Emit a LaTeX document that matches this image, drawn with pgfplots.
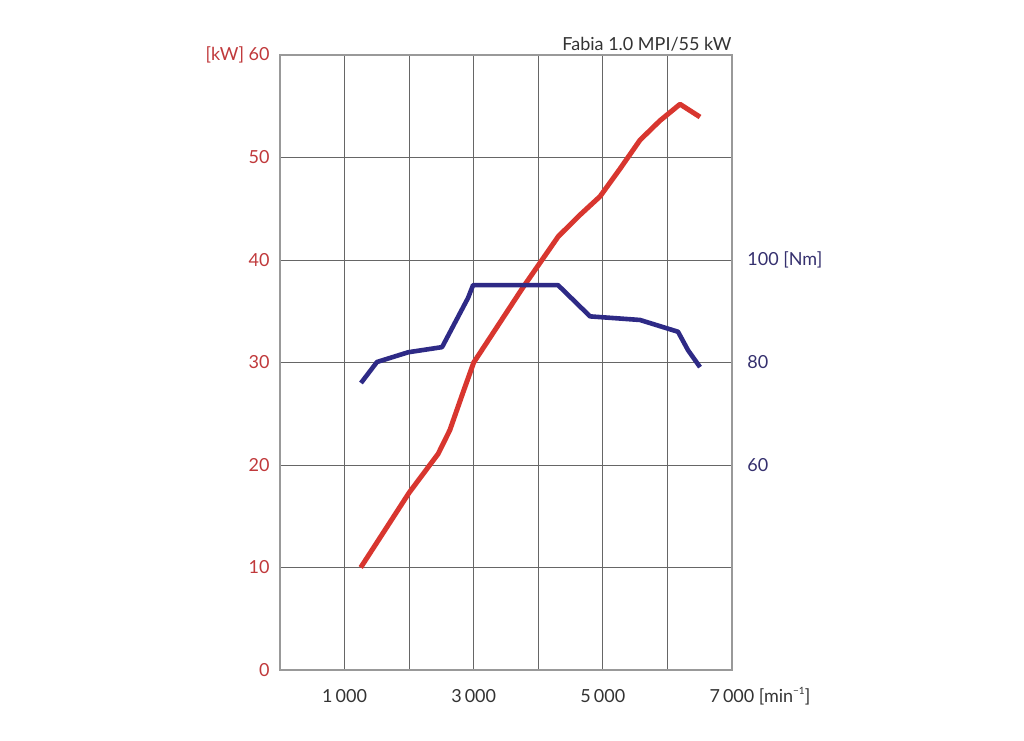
\documentclass[border=0pt]{standalone}
\usepackage{pgfplots}
\pgfplotsset{compat=1.18}
\usepackage{fontspec}
\setmainfont{Lato}
\definecolor{kwred}{HTML}{D8362F}
\definecolor{nmblue}{HTML}{2E2A86}
\definecolor{kwtext}{HTML}{C0393B}
\definecolor{nmtext}{HTML}{35306E}
\begin{document}
\fontsize{9pt}{11pt}\selectfont
\begin{tikzpicture}
\begin{axis}[name=main, scale only axis, width=226pt, height=307.5pt,
 xmin=0,xmax=7000,ymin=0,ymax=60,
 xtick={0,1000,...,7000},
 xticklabels={,1\,000,,3\,000,,5\,000,,7\,000\rlap{ [min\smash{\raisebox{0.9ex}{\fontsize{5pt}{6pt}\selectfont −1}}]}},
 ytick={0,10,...,60},
 yticklabels={0,10,20,30,40,50,\llap{[kW] }60},
 ytick pos=left, xtick pos=bottom,
 major tick length=0pt,
 grid=major, major grid style={draw=black!60, line width=0.5pt},
 axis line style={draw=black!40, line width=0.6pt},
 tick label style={font=\fontsize{9pt}{11pt}\selectfont},
 yticklabel style={text=kwtext, inner sep=0pt, anchor=east},
 xticklabel style={inner sep=0pt, text=black!80, anchor=north, text height=6.5pt},
 yticklabel shift=5pt,
 xticklabel shift=9.5pt,
 clip=false,
]
\addplot[kwred, line width=2.5pt, line join=round] coordinates {
(1250,10) (2000,17.3) (2450,21.1) (2630,23.4) (2830,27.0) (3000,30)
(3760,37.3) (4310,42.3) (4646,44.4) (4956,46.2) (5266,48.9) (5575,51.7)
(5885,53.6) (6195,55.2) (6505,53.95)
};
\node[anchor=base east, inner sep=0pt, text=black!80] at (rel axis cs:1,1) [yshift=2.5pt] {Fabia 1.0 MPI/55 kW};
\end{axis}
\begin{axis}[scale only axis, width=226pt, height=307.5pt,
 xmin=0,xmax=7000,ymin=20,ymax=140,
 axis x line=none, axis y line*=right,
 axis line style={draw=none},
 ytick={60,80,100},
 yticklabels={60,80,100 [Nm]},
 major tick length=0pt,
 tick label style={font=\fontsize{9pt}{11pt}\selectfont},
 yticklabel style={text=nmtext, inner sep=0pt, anchor=west},
 yticklabel shift=7.5pt,
]
\addplot[nmblue, line width=2.3pt, line join=round] coordinates {
(1254,76) (1502,80.1) (1986,82) (2510,83) (2912,92.6) (2990,95.1)
(4306,95.1) (4802,89) (5575,88.3) (6164,86) (6319,82.4) (6505,79.1)
};
\end{axis}
\pgfresetboundingbox
\path[use as bounding box] ([shift={(-140pt,-35pt)}]main.south west) rectangle ([shift={(146pt,27.5pt)}]main.north east);
\end{tikzpicture}
\end{document}
